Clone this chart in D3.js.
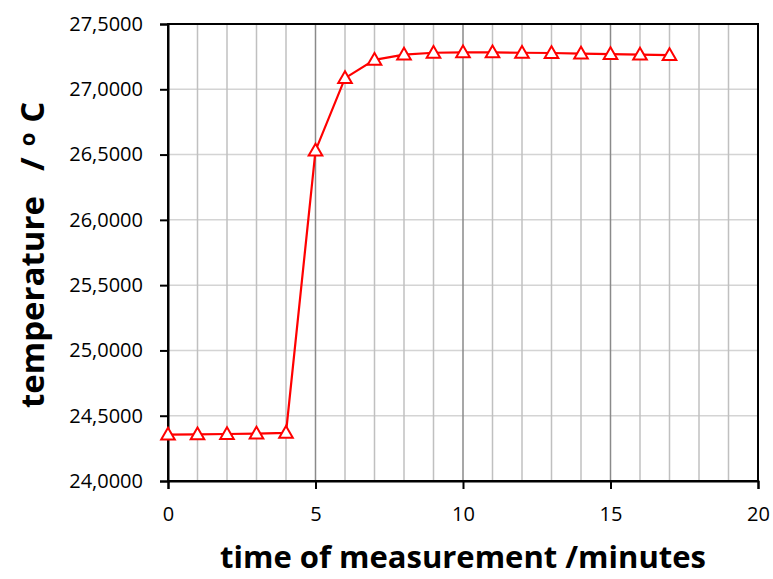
<!DOCTYPE html>
<html>
<head>
<meta charset="utf-8">
<script src="https://cdn.jsdelivr.net/npm/d3@7"></script>
<style>
  body { margin: 0; background: #fff; }
  text { font-family: "Open Sans", "Noto Sans", sans-serif; }
</style>
</head>
<body>
<div id="drawing"></div>
<script>
// Data
const minutes = [0, 1, 2, 3, 4, 5, 6, 7, 8, 9, 10, 11, 12, 13, 14, 15, 16, 17];
const temperature = [24.355, 24.357, 24.360, 24.363, 24.368, 26.530, 27.085, 27.225,
  27.265, 27.280, 27.283, 27.283, 27.280, 27.278, 27.273, 27.270, 27.266, 27.262];
const yTicks = [24, 24.5, 25, 25.5, 26, 26.5, 27, 27.5];
const xTicks = [0, 5, 10, 15, 20];

// SVG dimensions
const svgWidth = 773;
const svgHeight = 579;
const margin = {top: 24, right: 15, bottom: 98, left: 168};
const plotW = svgWidth - margin.left - margin.right;
const plotH = svgHeight - margin.top - margin.bottom;

const svg = d3.select("#drawing")
  .append("svg")
  .attr("width", svgWidth)
  .attr("height", svgHeight);

const g = svg.append("g")
  .attr("transform", `translate(${margin.left},${margin.top})`);

// Scales
const x = d3.scaleLinear().domain([0, 20]).range([0, plotW]);
const y = d3.scaleLinear().domain([24, 27.5]).range([plotH, 0]);

// Horizontal gridlines
g.selectAll(".hgrid")
  .data(yTicks)
  .enter()
  .append("line")
  .attr("x1", 0)
  .attr("x2", plotW)
  .attr("y1", d => y(d))
  .attr("y2", d => y(d))
  .attr("stroke", "#d4d4d4")
  .attr("stroke-width", 1.5);

// Vertical gridlines: minor every 1, major every 5
g.selectAll(".vgrid")
  .data(d3.range(1, 20))
  .enter()
  .append("line")
  .attr("x1", d => x(d))
  .attr("x2", d => x(d))
  .attr("y1", 0)
  .attr("y2", plotH)
  .attr("stroke", d => d % 5 === 0 ? "#8a8a8a" : "#c0c0c0")
  .attr("stroke-width", 1.5);

// Frame
g.append("rect")
  .attr("width", plotW)
  .attr("height", plotH)
  .attr("fill", "none")
  .attr("stroke", "#000")
  .attr("stroke-width", 2);

// Axes
const fmt = d => d.toFixed(4).replace(".", ",");
const yAxis = g.append("g")
  .call(d3.axisLeft(y).tickValues(yTicks).tickFormat(fmt).tickSize(8).tickPadding(17));
const xAxis = g.append("g")
  .attr("transform", `translate(0,${plotH})`)
  .call(d3.axisBottom(x).tickValues(xTicks).tickSize(8).tickPadding(18));

[yAxis, xAxis].forEach(a => {
  a.select(".domain").attr("stroke", "#000").attr("stroke-width", 2);
  a.selectAll(".tick line").attr("stroke", "#000").attr("stroke-width", 2);
  a.selectAll(".tick text")
    .attr("fill", "#000")
    .style("font-size", "20px")
    .style("font-family", '"Open Sans", sans-serif');
});

// Line
const pts = minutes.map((m, i) => [x(m), y(temperature[i])]);
g.append("path")
  .attr("d", d3.line()(pts))
  .attr("fill", "none")
  .attr("stroke", "#ff0000")
  .attr("stroke-width", 2.2);

// Triangle markers
const tri = d3.symbol().type(d3.symbolTriangle).size(80);
g.selectAll(".marker")
  .data(pts)
  .enter()
  .append("path")
  .attr("d", tri)
  .attr("transform", d => `translate(${d[0]},${d[1] + 1})`)
  .attr("fill", "#fff")
  .attr("stroke", "#ff0000")
  .attr("stroke-width", 2);

// Axis titles
svg.append("text")
  .attr("x", margin.left + plotW / 2)
  .attr("y", 568)
  .attr("text-anchor", "middle")
  .style("font-size", "31px")
  .style("font-weight", "bold")
  .text("time of measurement /minutes");

const yTitle = svg.append("text")
  .attr("transform", "translate(44,408) rotate(-90)")
  .attr("text-anchor", "start")
  .style("font-size", "33px")
  .style("font-weight", "bold");
yTitle.append("tspan").text("temperature");
yTitle.append("tspan").attr("dx", 25).text("/");
yTitle.append("tspan").attr("dx", 11).attr("dy", -9)
  .style("font-size", "22px").text("o");
yTitle.append("tspan").attr("dx", 10).attr("dy", 9).text("C");
</script>
</body>
</html>
